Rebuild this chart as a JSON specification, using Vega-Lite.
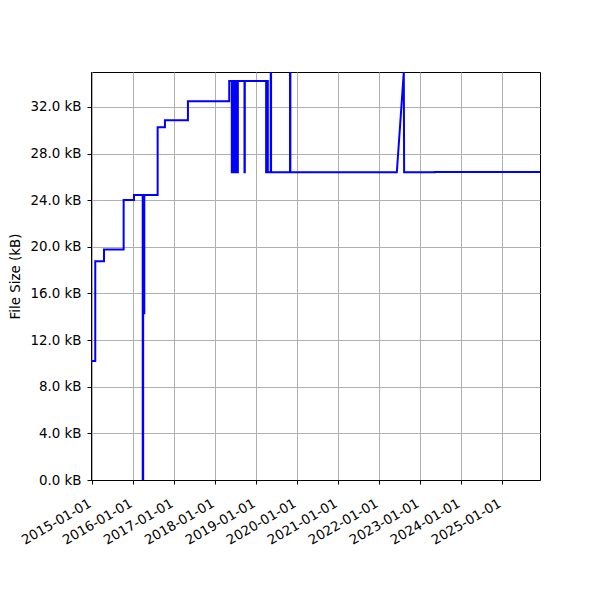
{
  "$schema": "https://vega.github.io/schema/vega-lite/v6.json",
  "autosize": {"type": "none"},
  "padding": {"left": 91, "top": 72, "right": 60, "bottom": 120},
  "width": 449,
  "height": 408,
  "background": "white",
  "config": {
    "font": "DejaVu Sans",
    "view": {"stroke": "#000000", "strokeWidth": 1},
    "axis": {
      "domainColor": "#000000",
      "domainWidth": 1,
      "tickColor": "#000000",
      "tickWidth": 1,
      "tickSize": 4,
      "gridColor": "#b0b0b0",
      "gridWidth": 1,
      "labelFont": "DejaVu Sans",
      "labelFontSize": 13.4,
      "labelColor": "#000000",
      "titleFont": "DejaVu Sans",
      "titleFontSize": 13.4,
      "titleFontWeight": "normal",
      "titleColor": "#000000"
    }
  },
  "data": {
    "values": [
      {"i": 1, "date": "2014-12-20", "size": 10.2},
      {"i": 2, "date": "2015-01-27", "size": 10.2},
      {"i": 3, "date": "2015-01-27", "size": 18.77},
      {"i": 4, "date": "2015-04-15", "size": 18.77},
      {"i": 5, "date": "2015-04-15", "size": 19.77},
      {"i": 6, "date": "2015-10-07", "size": 19.77},
      {"i": 7, "date": "2015-10-07", "size": 24.02},
      {"i": 8, "date": "2016-01-07", "size": 24.02},
      {"i": 9, "date": "2016-01-07", "size": 24.45},
      {"i": 10, "date": "2016-03-25", "size": 24.45},
      {"i": 11, "date": "2016-03-25", "size": 0},
      {"i": 12, "date": "2016-03-29", "size": 0},
      {"i": 13, "date": "2016-03-29", "size": 24.45},
      {"i": 14, "date": "2016-04-06", "size": 24.45},
      {"i": 15, "date": "2016-04-06", "size": 14.3},
      {"i": 16, "date": "2016-04-08", "size": 14.3},
      {"i": 17, "date": "2016-04-08", "size": 24.45},
      {"i": 18, "date": "2016-08-05", "size": 24.45},
      {"i": 19, "date": "2016-08-05", "size": 30.27},
      {"i": 20, "date": "2016-10-09", "size": 30.27},
      {"i": 21, "date": "2016-10-09", "size": 30.87},
      {"i": 22, "date": "2017-05-02", "size": 30.87},
      {"i": 23, "date": "2017-05-02", "size": 32.5},
      {"i": 24, "date": "2018-05-05", "size": 32.5},
      {"i": 25, "date": "2018-05-05", "size": 34.22},
      {"i": 26, "date": "2018-05-28", "size": 34.22},
      {"i": 27, "date": "2018-05-28", "size": 26.4},
      {"i": 28, "date": "2018-06-03", "size": 26.4},
      {"i": 29, "date": "2018-06-03", "size": 34.22},
      {"i": 30, "date": "2018-06-09", "size": 34.22},
      {"i": 31, "date": "2018-06-09", "size": 26.4},
      {"i": 32, "date": "2018-06-15", "size": 26.4},
      {"i": 33, "date": "2018-06-15", "size": 34.22},
      {"i": 34, "date": "2018-06-21", "size": 34.22},
      {"i": 35, "date": "2018-06-21", "size": 26.4},
      {"i": 36, "date": "2018-06-27", "size": 26.4},
      {"i": 37, "date": "2018-06-27", "size": 34.22},
      {"i": 38, "date": "2018-07-03", "size": 34.22},
      {"i": 39, "date": "2018-07-03", "size": 26.4},
      {"i": 40, "date": "2018-07-09", "size": 26.4},
      {"i": 41, "date": "2018-07-09", "size": 34.22},
      {"i": 42, "date": "2018-07-15", "size": 34.22},
      {"i": 43, "date": "2018-07-15", "size": 26.4},
      {"i": 44, "date": "2018-07-21", "size": 26.4},
      {"i": 45, "date": "2018-07-21", "size": 34.22},
      {"i": 46, "date": "2018-09-18", "size": 34.22},
      {"i": 47, "date": "2018-09-18", "size": 26.4},
      {"i": 48, "date": "2018-09-21", "size": 26.4},
      {"i": 49, "date": "2018-09-21", "size": 34.22},
      {"i": 50, "date": "2019-03-30", "size": 34.22},
      {"i": 51, "date": "2019-03-30", "size": 26.4},
      {"i": 52, "date": "2019-04-06", "size": 26.4},
      {"i": 53, "date": "2019-04-06", "size": 34.22},
      {"i": 54, "date": "2019-04-14", "size": 34.22},
      {"i": 55, "date": "2019-04-14", "size": 26.4},
      {"i": 56, "date": "2019-05-10", "size": 26.4},
      {"i": 57, "date": "2019-05-10", "size": 35.0},
      {"i": 58, "date": "2019-05-13", "size": 35.0},
      {"i": 59, "date": "2019-05-13", "size": 26.4},
      {"i": 60, "date": "2019-10-29", "size": 26.4},
      {"i": 61, "date": "2019-10-29", "size": 35.0},
      {"i": 62, "date": "2019-11-01", "size": 35.0},
      {"i": 63, "date": "2019-11-01", "size": 26.4},
      {"i": 64, "date": "2022-06-07", "size": 26.4},
      {"i": 65, "date": "2022-08-08", "size": 35.0},
      {"i": 66, "date": "2022-08-11", "size": 26.4},
      {"i": 67, "date": "2023-05-11", "size": 26.4},
      {"i": 68, "date": "2023-05-11", "size": 26.43},
      {"i": 69, "date": "2025-12-04", "size": 26.43}
    ]
  },
  "mark": {"type": "line", "color": "#0000ff", "strokeWidth": 2, "clip": true, "interpolate": "linear"},
  "encoding": {
    "x": {
      "field": "date",
      "type": "temporal",
      "scale": {
        "type": "utc",
        "nice": false,
        "domain": [
          {"year": 2014, "month": 12, "date": 20, "utc": true},
          {"year": 2025, "month": 12, "date": 4, "utc": true}
        ]
      },
      "axis": {
        "title": null,
        "format": "%Y-%m-%d",
        "values": [
          {"year": 2015, "month": 1, "date": 1, "utc": true},
          {"year": 2016, "month": 1, "date": 1, "utc": true},
          {"year": 2017, "month": 1, "date": 1, "utc": true},
          {"year": 2018, "month": 1, "date": 1, "utc": true},
          {"year": 2019, "month": 1, "date": 1, "utc": true},
          {"year": 2020, "month": 1, "date": 1, "utc": true},
          {"year": 2021, "month": 1, "date": 1, "utc": true},
          {"year": 2022, "month": 1, "date": 1, "utc": true},
          {"year": 2023, "month": 1, "date": 1, "utc": true},
          {"year": 2024, "month": 1, "date": 1, "utc": true},
          {"year": 2025, "month": 1, "date": 1, "utc": true}
        ],
        "labelAngle": -30,
        "labelAlign": "right",
        "labelBaseline": "top",
        "labelPadding": 12,
        "labelOffset": -6,
        "labelOverlap": false,
        "labelFlush": false,
        "grid": true
      }
    },
    "y": {
      "field": "size",
      "type": "quantitative",
      "scale": {"domain": [0, 35], "nice": false, "zero": true},
      "axis": {
        "title": "File Size (kB)",
        "values": [0, 4, 8, 12, 16, 20, 24, 28, 32],
        "labelExpr": "format(datum.value, '.1f') + ' kB'",
        "labelPadding": 6,
        "titlePadding": 7,
        "grid": true
      }
    },
    "order": {"field": "i", "type": "quantitative"}
  }
}
